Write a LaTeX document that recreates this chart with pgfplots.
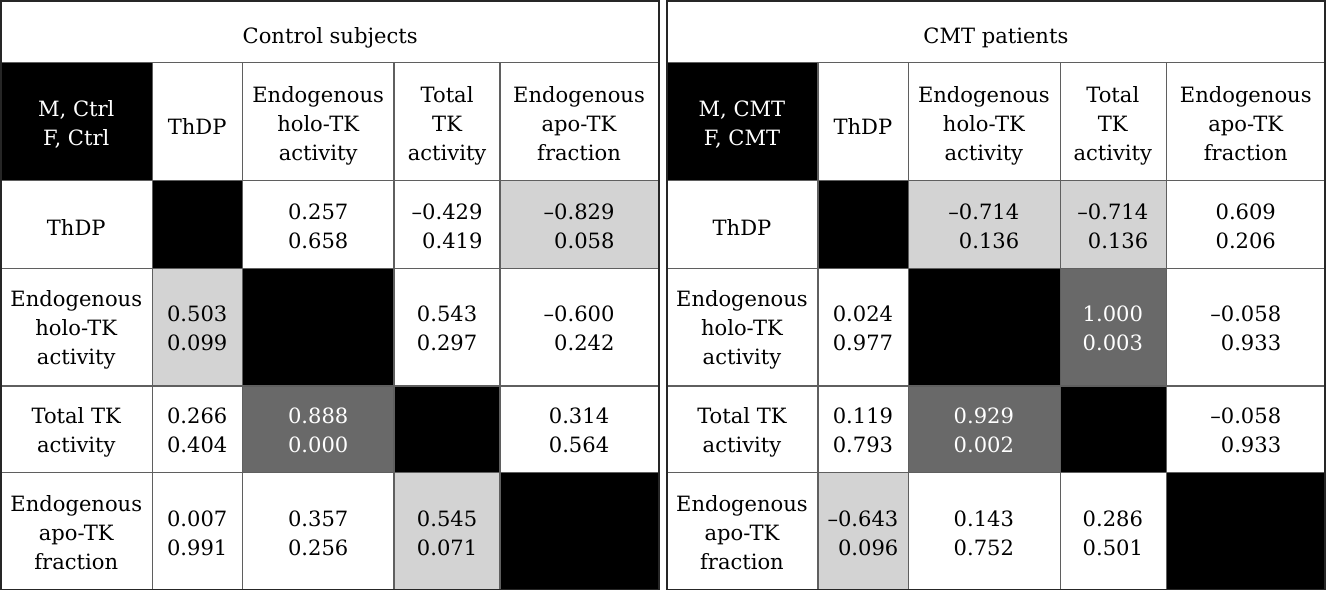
\documentclass[border=0pt]{standalone}
\usepackage{pgfplots}
\pgfplotsset{compat=1.18}
\usepackage{fontspec}
\setmainfont{DejaVu Serif}
\definecolor{lgray}{RGB}{211,211,211}
\definecolor{dgray}{RGB}{105,105,105}
\definecolor{gridc}{RGB}{95,95,95}
\newcommand{\cell}[5]{\addplot[draw=none, fill=#5] coordinates {(#1,#3) (#2,#3) (#2,#4) (#1,#4)} --cycle;}
\tikzset{
  t/.style={align=center, font=\fontsize{15.8}{21.75}\selectfont, inner sep=0pt, text=black},
  n/.style={align=right, font=\fontsize{15.8}{21.75}\selectfont, inner sep=0pt, text=black},
  w/.style={text=white}
}
\begin{document}
\begin{tikzpicture}
\begin{axis}[
  width=994.5pt, height=442.5pt, scale only axis,
  xmin=0, xmax=1326, ymin=0, ymax=590, y dir=reverse,
  axis lines=none, clip=false,
]
% ---------- fills: left panel ----------
\cell{0.5}{152.5}{62.5}{180.5}{black}
\cell{152.5}{242.5}{180.5}{268}{black}
\cell{242.5}{394}{268}{386}{black}
\cell{394}{500}{386}{472.5}{black}
\cell{500}{659}{472.5}{589.5}{black}
\cell{500}{659}{180.5}{268}{lgray}
\cell{152.5}{242.5}{268}{386}{lgray}
\cell{242.5}{394}{386}{472.5}{dgray}
\cell{394}{500}{472.5}{589.5}{lgray}
% ---------- fills: right panel ----------
\cell{667}{818}{62.5}{180.5}{black}
\cell{818}{908.5}{180.5}{268}{black}
\cell{908.5}{1060.5}{268}{386}{black}
\cell{1060.5}{1166.5}{386}{472.5}{black}
\cell{1166.5}{1325.5}{472.5}{589.5}{black}
\cell{908.5}{1060.5}{180.5}{268}{lgray}
\cell{1060.5}{1166.5}{180.5}{268}{lgray}
\cell{1060.5}{1166.5}{268}{386}{dgray}
\cell{908.5}{1060.5}{386}{472.5}{dgray}
\cell{818}{908.5}{472.5}{589.5}{lgray}
% ---------- grid lines: left ----------
\addplot[gridc, line width=1pt] coordinates {(0.5,62.5) (659,62.5)};
\addplot[gridc, line width=1pt] coordinates {(0.5,180.5) (659,180.5)};
\addplot[gridc, line width=1pt] coordinates {(0.5,268) (659,268)};
\addplot[gridc, line width=1pt] coordinates {(0.5,386) (659,386)};
\addplot[gridc, line width=1pt] coordinates {(0.5,472.5) (659,472.5)};
\addplot[gridc, line width=1pt] coordinates {(152.5,62.5) (152.5,589.5)};
\addplot[gridc, line width=1pt] coordinates {(242.5,62.5) (242.5,589.5)};
\addplot[gridc, line width=1pt] coordinates {(394,62.5) (394,589.5)};
\addplot[gridc, line width=1pt] coordinates {(500,62.5) (500,589.5)};
\addplot[black!85, line width=1.2pt] coordinates {(0.5,0.5) (659,0.5) (659,589.5) (0.5,589.5)} --cycle;
% ---------- grid lines: right ----------
\addplot[gridc, line width=1pt] coordinates {(667,62.5) (1325.5,62.5)};
\addplot[gridc, line width=1pt] coordinates {(667,180.5) (1325.5,180.5)};
\addplot[gridc, line width=1pt] coordinates {(667,268) (1325.5,268)};
\addplot[gridc, line width=1pt] coordinates {(667,386) (1325.5,386)};
\addplot[gridc, line width=1pt] coordinates {(667,472.5) (1325.5,472.5)};
\addplot[gridc, line width=1pt] coordinates {(818,62.5) (818,589.5)};
\addplot[gridc, line width=1pt] coordinates {(908.5,62.5) (908.5,589.5)};
\addplot[gridc, line width=1pt] coordinates {(1060.5,62.5) (1060.5,589.5)};
\addplot[gridc, line width=1pt] coordinates {(1166.5,62.5) (1166.5,589.5)};
\addplot[black!85, line width=1.2pt] coordinates {(667,0.5) (1325.5,0.5) (1325.5,589.5) (667,589.5)} --cycle;
% ---------- text: left ----------
\node[t] at (axis cs:330,38) {Control subjects};
\node[t,w] at (axis cs:76,124) {M, Ctrl\\F, Ctrl};
\node[t] at (axis cs:197,126) {ThDP};
\node[t] at (axis cs:318,126) {Endogenous\\holo-TK\\activity};
\node[t] at (axis cs:447,126) {Total\\TK\\activity};
\node[t] at (axis cs:579,123) {Endogenous\\apo-TK\\fraction};
\node[t] at (axis cs:76,227) {ThDP};
\node[t] at (axis cs:76,330) {Endogenous\\holo-TK\\activity};
\node[t] at (axis cs:76,432) {Total TK\\activity};
\node[t] at (axis cs:76,533) {Endogenous\\apo-TK\\fraction};
\node[n] at (axis cs:318,226) {0.257\\0.658};
\node[n] at (axis cs:447,226) {–0.429\\0.419};
\node[n] at (axis cs:579,226) {–0.829\\0.058};
\node[n] at (axis cs:197,328) {0.503\\0.099};
\node[n] at (axis cs:447,328) {0.543\\0.297};
\node[n] at (axis cs:579,328) {–0.600\\0.242};
\node[n] at (axis cs:197,430) {0.266\\0.404};
\node[n,w] at (axis cs:318,430) {0.888\\0.000};
\node[n] at (axis cs:579,430) {0.314\\0.564};
\node[n] at (axis cs:197,533) {0.007\\0.991};
\node[n] at (axis cs:318,533) {0.357\\0.256};
\node[n] at (axis cs:447,533) {0.545\\0.071};
% ---------- text: right ----------
\node[t] at (axis cs:996,38) {CMT patients};
\node[t,w] at (axis cs:742,124) {M, CMT\\F, CMT};
\node[t] at (axis cs:863,126) {ThDP};
\node[t] at (axis cs:984,126) {Endogenous\\holo-TK\\activity};
\node[t] at (axis cs:1113,126) {Total\\TK\\activity};
\node[t] at (axis cs:1246,123) {Endogenous\\apo-TK\\fraction};
\node[t] at (axis cs:742,227) {ThDP};
\node[t] at (axis cs:742,330) {Endogenous\\holo-TK\\activity};
\node[t] at (axis cs:742,432) {Total TK\\activity};
\node[t] at (axis cs:742,533) {Endogenous\\apo-TK\\fraction};
\node[n] at (axis cs:984,226) {–0.714\\0.136};
\node[n] at (axis cs:1113,226) {–0.714\\0.136};
\node[n] at (axis cs:1246,226) {0.609\\0.206};
\node[n] at (axis cs:863,328) {0.024\\0.977};
\node[n,w] at (axis cs:1113,328) {1.000\\0.003};
\node[n] at (axis cs:1246,328) {–0.058\\0.933};
\node[n] at (axis cs:863,430) {0.119\\0.793};
\node[n,w] at (axis cs:984,430) {0.929\\0.002};
\node[n] at (axis cs:1246,430) {–0.058\\0.933};
\node[n] at (axis cs:863,533) {–0.643\\0.096};
\node[n] at (axis cs:984,533) {0.143\\0.752};
\node[n] at (axis cs:1113,533) {0.286\\0.501};
\end{axis}
\end{tikzpicture}
\end{document}
